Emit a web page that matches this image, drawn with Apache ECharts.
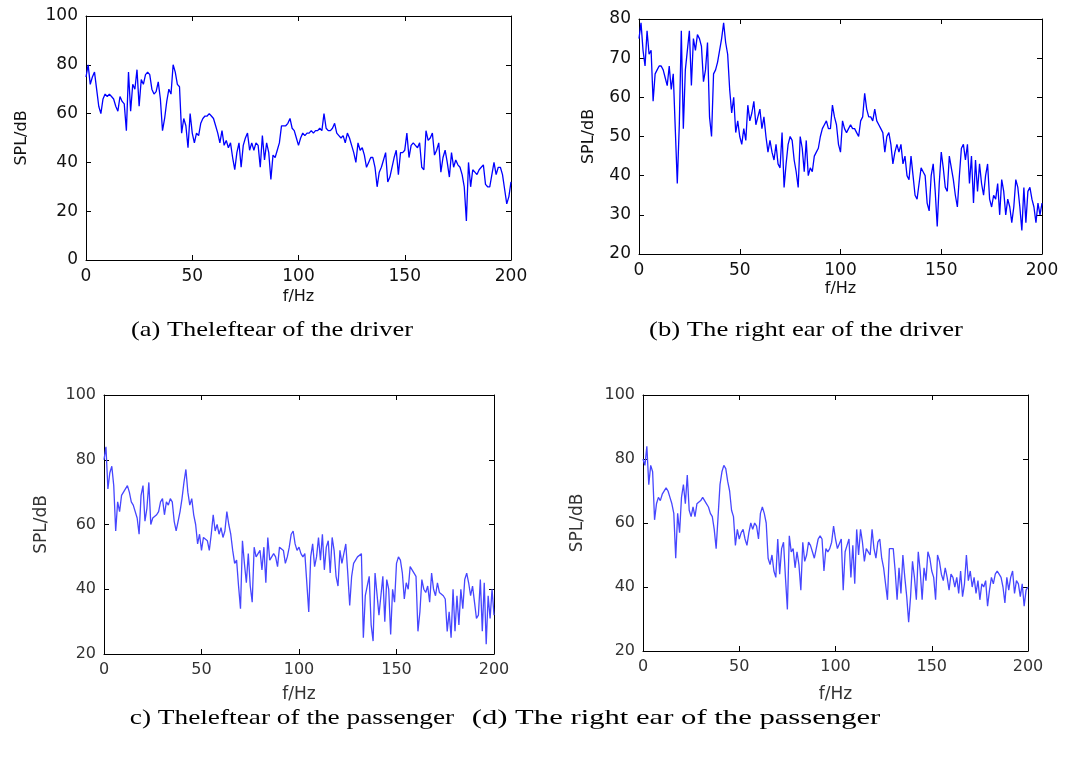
<!DOCTYPE html>
<html lang="en">
<head>
<meta charset="UTF-8">
<title>SPL spectra</title>
<script src="https://cdn.jsdelivr.net/npm/echarts@6/dist/echarts.min.js"></script>
<style>
    html, body { margin: 0; width: 100%; height: 100%; background: #fff; }
    #chart { width: 1069px; height: 760px; }
</style>
</head>
<body>
<div id="chart"></div>
<script>
    // spacing of the spectrum lines, Hz
    var freqStep = 1;

    // (a) left ear of the driver, SPL in dB from 0 to 200 Hz
    var driverLeft = [
        75, 80, 72, 75, 77, 70, 63, 60, 66, 68,
        67, 68, 67, 66, 63, 61, 67, 65, 64, 53,
        77, 61, 72, 70, 78, 63, 74, 72, 76, 77,
        76, 70, 68, 69, 73, 66, 53, 58, 65, 70,
        68, 80, 77, 72, 71, 52, 58, 55, 46, 60,
        52, 48, 52, 51, 56, 58, 59, 59, 60, 59,
        58, 55, 52, 48, 53, 47, 49, 46, 48, 42,
        37, 44, 48, 38, 47, 50, 52, 45, 48, 45,
        48, 47, 38, 51, 41, 48, 44, 33, 43, 42,
        45, 48, 55, 55, 55, 56, 58, 54, 53, 50,
        47, 50, 52, 51, 52, 52, 53, 52, 53, 53,
        54, 53, 60, 54, 53, 53, 54, 56, 52, 51,
        50, 51, 48, 52, 50, 47, 44, 40, 48, 45,
        46, 43, 38, 40, 42, 42, 38, 30, 36, 38,
        41, 44, 32, 34, 38, 42, 45, 35, 44, 44,
        45, 52, 42, 47, 48, 47, 46, 48, 38, 37,
        53, 49, 50, 52, 43, 45, 48, 36, 42, 45,
        40, 34, 44, 38, 41, 39, 38, 35, 30, 16,
        40, 30, 37, 36, 35, 37, 38, 39, 31, 30,
        30, 35, 40, 35, 38, 38, 35, 29, 23, 26,
        32
    ];

    // (b) right ear of the driver
    var driverRight = [
        75, 79, 72, 68, 77, 71, 72, 59, 66, 67,
        68, 68, 67, 65, 63, 68, 62, 66, 52, 38,
        53, 77, 52, 67, 72, 77, 63, 75, 72, 76,
        75, 73, 64, 67, 74, 55, 50, 66, 67, 69,
        72, 75, 79, 74, 71, 62, 56, 60, 51, 54,
        50, 48, 52, 49, 58, 54, 56, 59, 53, 55,
        57, 52, 55, 50, 46, 49, 46, 44, 48, 43,
        42, 51, 37, 43, 48, 50, 49, 44, 41, 37,
        50, 47, 41, 49, 40, 42, 41, 45, 46, 47,
        50, 52, 53, 54, 52, 52, 58, 55, 53, 48,
        46, 54, 52, 51, 52, 53, 52, 52, 51, 50,
        54, 55, 61, 57, 55, 55, 54, 57, 54, 53,
        52, 51, 46, 50, 51, 48, 43, 46, 48, 46,
        48, 43, 45, 40, 39, 45, 40, 35, 34, 38,
        42, 41, 40, 33, 31, 40, 43, 36, 27, 38,
        46, 42, 37, 36, 45, 42, 39, 35, 32, 40,
        47, 48, 44, 48, 38, 45, 33, 44, 36, 43,
        38, 35, 40, 43, 34, 32, 35, 34, 38, 30,
        39, 36, 30, 34, 32, 28, 32, 39, 37, 32,
        26, 37, 28, 36, 37, 34, 32, 28, 33, 30,
        33
    ];

    // (c) left ear of the passenger
    var passengerLeft = [
        80, 84, 71, 76, 78, 72, 58, 67, 64, 69,
        70, 71, 72, 70, 67, 66, 66, 62, 57, 69,
        72, 61, 65, 73, 60, 62, 62, 63, 64, 67,
        68, 63, 67, 66, 68, 67, 61, 58, 61, 64,
        68, 73, 77, 70, 66, 68, 63, 60, 54, 57,
        52, 56, 56, 55, 52, 57, 63, 58, 60, 57,
        59, 56, 58, 64, 60, 57, 52, 48, 49, 41,
        34, 55, 48, 42, 51, 41, 36, 53, 50, 51,
        52, 46, 53, 42, 56, 49, 50, 51, 50, 47,
        53, 53, 52, 48, 50, 53, 57, 58, 54, 52,
        53, 51, 50, 51, 51, 33, 50, 54, 47, 50,
        56, 49, 57, 46, 53, 55, 45, 56, 52, 44,
        41, 52, 48, 48, 54, 45, 35, 44, 48, 48,
        50, 50, 51, 25, 38, 38, 44, 29, 24, 45,
        45, 32, 38, 44, 30, 43, 40, 26, 40, 36,
        48, 50, 49, 45, 37, 42, 40, 47, 46, 45,
        44, 27, 33, 43, 40, 39, 41, 36, 45, 40,
        38, 42, 39, 39, 38, 37, 27, 33, 25, 40,
        27, 38, 29, 40, 34, 43, 45, 42, 38, 41,
        36, 31, 32, 43, 27, 42, 23, 38, 31, 40,
        32
    ];

    // (d) right ear of the passenger
    var passengerRight = [
        80, 78, 84, 72, 78, 76, 61, 66, 68, 67,
        69, 69, 71, 70, 68, 66, 63, 49, 63, 57,
        68, 72, 66, 75, 64, 62, 65, 62, 66, 66,
        67, 68, 68, 66, 65, 63, 62, 58, 52, 62,
        72, 76, 78, 77, 73, 70, 64, 62, 53, 58,
        55, 57, 58, 55, 53, 57, 60, 58, 60, 59,
        55, 63, 65, 63, 60, 49, 47, 50, 45, 43,
        55, 44, 52, 54, 43, 33, 56, 51, 52, 46,
        51, 47, 39, 54, 48, 50, 54, 53, 51, 49,
        52, 55, 56, 55, 45, 52, 51, 52, 54, 59,
        55, 52, 52, 55, 39, 51, 53, 55, 43, 53,
        41, 58, 50, 58, 54, 48, 52, 51, 50, 58,
        52, 49, 54, 55, 49, 46, 41, 36, 52, 52,
        52, 45, 36, 46, 38, 50, 43, 37, 29, 37,
        48, 43, 36, 51, 45, 36, 46, 42, 51, 49,
        45, 43, 36, 50, 48, 44, 42, 46, 43, 39,
        44, 43, 40, 43, 38, 45, 37, 41, 50, 42,
        45, 40, 43, 38, 42, 36, 41, 40, 42, 34,
        39, 43, 41, 44, 45, 44, 43, 40, 35, 43,
        39, 43, 45, 38, 42, 41, 37, 41, 34, 39,
        40
    ];

    var captions = [
        '(a) Theleftear of the driver',
        '(b) The right ear of the driver',
        'c) Theleftear of the passenger',
        '(d) The right ear of the passenger'
    ];

    // layout of the four panels
    var panels = [
        { data: driverLeft, ymin: 0, ymax: 100, step: 20,
          left: 86, top: 16, width: 425, height: 244, fs: 17, nameFs: 16,
          yGap: 56, xGap: 29, color: '#0000ff', text: '#111',
          cap: [272, 330], capScale: 1.26 },
        { data: driverRight, ymin: 20, ymax: 80, step: 10,
          left: 639, top: 19, width: 403, height: 235, fs: 17, nameFs: 16,
          yGap: 42, xGap: 27, color: '#0000ff', text: '#111',
          cap: [806, 330], capScale: 1.27 },
        { data: passengerLeft, ymin: 20, ymax: 100, step: 20,
          left: 104, top: 395, width: 390, height: 259, fs: 16, nameFs: 17,
          yGap: 54, xGap: 32, color: '#4646ff', text: '#333',
          cap: [292, 718], capScale: 1.3 },
        { data: passengerRight, ymin: 20, ymax: 100, step: 20,
          left: 643, top: 395, width: 385, height: 256, fs: 16, nameFs: 17,
          yGap: 57, xGap: 35, color: '#4646ff', text: '#333',
          cap: [676, 718], capScale: 1.46 }
    ];

    var font = 'DejaVu Sans';
    var grids = [], xAxes = [], yAxes = [], series = [], texts = [];

    panels.forEach(function (p, i) {
        grids.push({ left: p.left, top: p.top, width: p.width, height: p.height });

        var line = { show: true, onZero: false, lineStyle: { color: '#000', width: 1 } };
        var tick = { show: true, inside: true, length: 5, lineStyle: { color: '#000' } };
        var label = { margin: 8, fontSize: p.fs, color: p.text, fontFamily: font };
        var nameStyle = { fontSize: p.nameFs, color: p.text, fontFamily: font };

        xAxes.push({
            type: 'value', gridIndex: i, position: 'bottom',
            min: 0, max: 200, interval: 50,
            axisLine: line, axisTick: tick, splitLine: { show: false },
            axisLabel: label,
            name: 'f/Hz', nameLocation: 'middle', nameGap: p.xGap,
            nameTextStyle: nameStyle
        });
        xAxes.push({
            type: 'value', gridIndex: i, position: 'top',
            min: 0, max: 200, interval: 50,
            axisLine: line, axisTick: tick, splitLine: { show: false },
            axisLabel: { show: false }
        });
        yAxes.push({
            type: 'value', gridIndex: i, position: 'left',
            min: p.ymin, max: p.ymax, interval: p.step,
            axisLine: line, axisTick: tick, splitLine: { show: false },
            axisLabel: label,
            name: 'SPL/dB', nameLocation: 'middle', nameGap: p.yGap,
            nameTextStyle: nameStyle
        });
        yAxes.push({
            type: 'value', gridIndex: i, position: 'right',
            min: p.ymin, max: p.ymax, interval: p.step,
            axisLine: line, axisTick: tick, splitLine: { show: false },
            axisLabel: { show: false }
        });

        series.push({
            type: 'line',
            xAxisIndex: 2 * i, yAxisIndex: 2 * i,
            showSymbol: false,
            lineStyle: { color: p.color, width: 1.3 },
            data: p.data.map(function (v, k) { return [k * freqStep, v]; })
        });

        texts.push({
            type: 'text', x: p.cap[0], y: p.cap[1], scaleX: p.capScale,
            style: {
                text: captions[i], fill: '#000',
                font: '21px "Liberation Serif", "Times New Roman", serif',
                textAlign: 'center', textVerticalAlign: 'middle'
            }
        });
    });

    var chart = echarts.init(document.getElementById('chart'));
    chart.setOption({
        animation: false,
        backgroundColor: '#fff',
        grid: grids,
        xAxis: xAxes,
        yAxis: yAxes,
        series: series,
        graphic: texts
    });
</script>
</body>
</html>
